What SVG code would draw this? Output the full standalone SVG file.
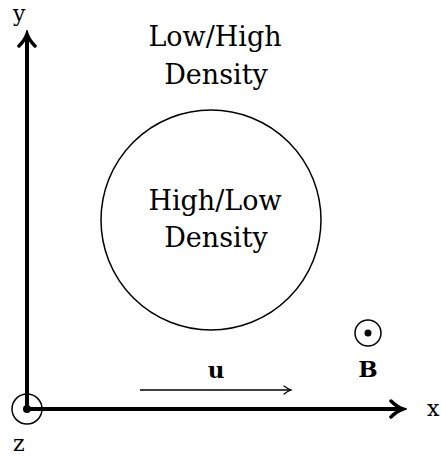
<svg xmlns="http://www.w3.org/2000/svg" width="441" height="456" viewBox="0 0 441 456">
<style>
text{font-family:'DejaVu Serif',serif;fill:#000}
.lbl{font-size:27px;text-anchor:middle}
.ax{font-size:22px}
.bold{font-weight:bold;font-size:23px;text-anchor:middle}
.axis{stroke:#000;stroke-width:4;fill:none}
.thin{stroke:#000;stroke-width:1.5;fill:none}
</style>
<defs>
<marker id="big" markerUnits="userSpaceOnUse" viewBox="0 0 20 20" refX="16" refY="10" markerWidth="20" markerHeight="20" orient="auto">
<path d="M4,2 Q10,8 16,10 Q10,12 4,18" fill="none" stroke="#000" stroke-width="3.5" stroke-linecap="round"/>
</marker>
<marker id="small" markerUnits="userSpaceOnUse" viewBox="0 0 12 12" refX="10" refY="6" markerWidth="12" markerHeight="12" orient="auto">
<path d="M3,2 Q7,5 10,6 Q7,7 3,10" fill="none" stroke="#000" stroke-width="1.2" stroke-linecap="round"/>
</marker>
</defs>
<g id="connectors">
<line id="y-axis" class="axis" x1="27" y1="409" x2="27" y2="34" marker-end="url(#big)"/>
<line id="x-axis" class="axis" x1="27" y1="409" x2="403" y2="409" marker-end="url(#big)"/>
<line id="u-arrow" class="thin" x1="140" y1="390" x2="291" y2="390" marker-end="url(#small)"/>
</g>
<g id="origin">
<circle cx="27" cy="409" r="15" class="thin"/>
<circle cx="27" cy="409" r="4" fill="#000"/>
</g>
<g id="labels">
<text class="ax" x="13" y="21">y</text>
<text class="ax" x="427" y="416">x</text>
<text class="ax" x="13" y="451">z</text>
</g>
<g id="outer-region">
<text class="lbl" x="215" y="46">Low/High</text>
<text class="lbl" x="216" y="84">Density</text>
</g>
<g id="circle-region">
<circle cx="211" cy="220" r="110" class="thin"/>
<text class="lbl" x="215" y="210">High/Low</text>
<text class="lbl" x="216" y="247">Density</text>
</g>
<g id="u-label">
<text class="bold" x="216" y="378">u</text>
</g>
<g id="B-field">
<circle cx="368" cy="333" r="13" class="thin"/>
<circle cx="368" cy="333" r="3.5" fill="#000"/>
<text class="bold" x="368" y="377">B</text>
</g>
</svg>
